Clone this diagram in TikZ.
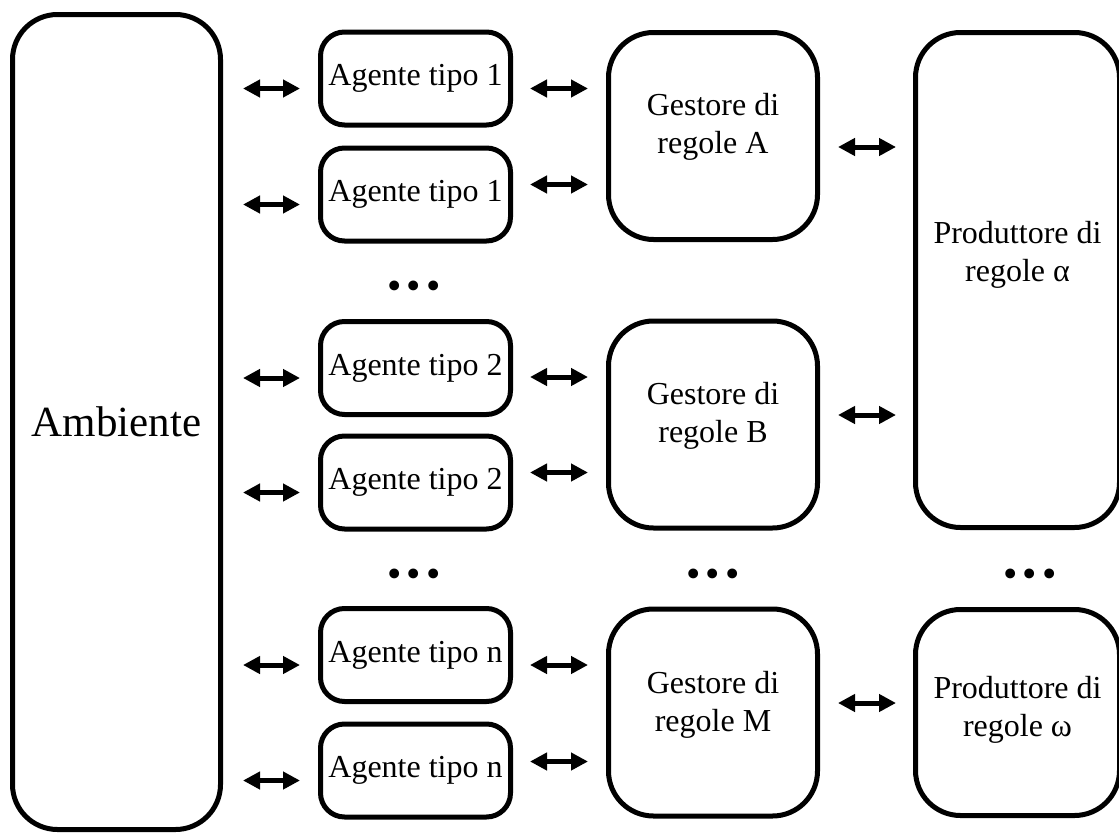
\documentclass[tikz,border=0pt]{standalone}
\usepackage{fontspec}
\setmainfont{Liberation Serif}
\usetikzlibrary{arrows.meta,shapes}
\tikzstyle{ambient}=[draw,line width=5pt,rounded corners=45pt,minimum width=208pt,minimum height=815pt,inner sep=0pt,font=\fontsize{43}{50}\selectfont]
\tikzstyle{agent}=[draw,line width=5pt,rounded corners=24pt,minimum width=190pt,minimum height=93pt,inner sep=0pt,font=\fontsize{32}{38}\selectfont]
\tikzstyle{rulebox}=[draw,line width=5pt,rounded corners=45pt,inner sep=0pt]
\tikzstyle{boxtext}=[align=center,inner sep=0pt,font=\fontsize{32}{38}\selectfont]
\tikzstyle{dots}=[inner sep=0pt,font=\fontsize{41}{45}\selectfont]
\tikzstyle{biarrow}=[draw,line width=5pt,>={Triangle[length=17pt,width=17pt]},<->,shorten <=18pt,shorten >=18pt]

\begin{document}
\begin{tikzpicture}[x=1pt,y=-1pt]
    \clip (0,0) rectangle (1119,835);
    % The environment on the left
    \node[ambient] (amb) at (116.5,422) {Ambiente};
    % Then the agents
    \foreach \pos/\name/\txt in {{(415.5,78.5)/ag1/1}, {(415.5,194.5)/ag2/1}, {(415.5,368)/ag3/2}, {(415.5,482.5)/ag4/2}, {(415.5,655)/ag5/n}, {(415.5,770.5)/ag6/n}}
        \node[agent] (\name) at \pos {Agente tipo \txt};
    % Rule managers and rule producers
    \foreach \pos/\name/\w/\h/\dy/\txt in {{(713,136)/gA/209/207/9/Gestore di\\regole A}, {(713,424.5)/gB/209/207/9/Gestore di\\regole B}, {(713,712.5)/gM/209/207/8/Gestore di\\regole M}, {(1017.5,280)/pa/204/495/25/Produttore di\\regole α}, {(1017.5,712.5)/pw/204/206/3/Produttore di\\regole ω}}
    {
        \node[rulebox,minimum width=\w,minimum height=\h] (\name) at \pos {};
        \node[boxtext] (\name-t) at ([yshift=\dy]\name) {\txt};
    }
    \foreach \pos/\name in {{(414,290)/dots1}, {(414,578)/dots2}, {(713,578)/dots3}, {(1030,578)/dots4}}
        \node[dots] (\name) at \pos {•\kern5pt•\kern5pt•};
    % Connect agents with the environment
    \foreach \dest in {ag1,ag2,ag3,ag4,ag5,ag6}
        \path[biarrow,shorten <=20pt] ([yshift=-10pt]amb.east |- \dest.west) -- ([yshift=-10pt]\dest.west);
    % Connect agents with the rule managers
    \foreach \source/\dest/\dy in {ag1/gA/-10, ag2/gA/10, ag3/gB/-9, ag4/gB/10, ag5/gM/-10, ag6/gM/9}
        \path[biarrow,shorten <=17pt] ([yshift=\dy]\source.east) -- ([yshift=\dy]\dest.west |- \source.east);
    % Connect managers with producers
    \foreach \source/\dest/\dy in {gA/pa/-11, gB/pa/9.5, gM/pw/9.5}
        \path[biarrow,shorten >=17pt] ([yshift=\dy]\source.east) -- ([yshift=\dy]\dest.west |- \source.east);
\end{tikzpicture}
\end{document}
